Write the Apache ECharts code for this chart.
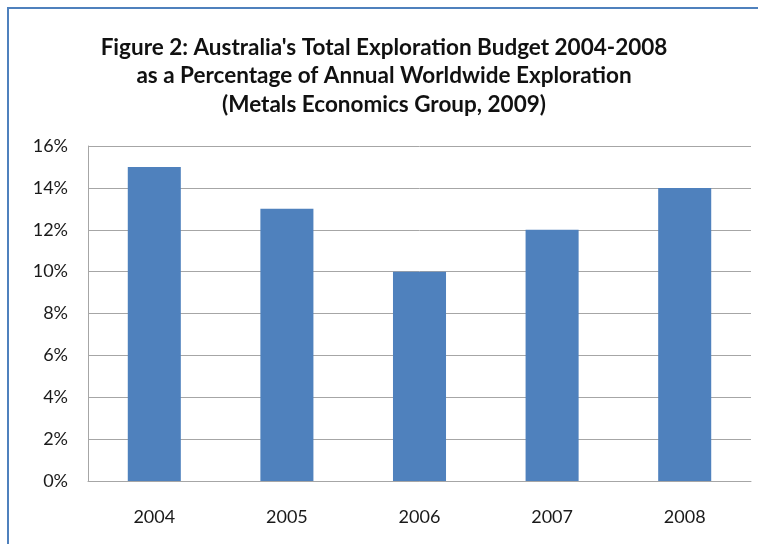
<!DOCTYPE html>
<html>
<head>
<meta charset="utf-8">
<script src="https://cdn.jsdelivr.net/npm/echarts@6/dist/echarts.min.js"></script>
<style>
  html, body { margin: 0; padding: 0; background: #fff; overflow: hidden; }
  #frame {
    position: absolute; left: 7px; top: 7px; width: 800px; height: 600px;
    border-left: 2px solid #4F81BD; border-top: 2px solid #4F81BD;
  }
  #chart { position: absolute; left: 0; top: 0; width: 758px; height: 544px; }
</style>
</head>
<body>
<div id="frame"></div>
<div id="chart"></div>
<script>
// data
const years = ['2004', '2005', '2006', '2007', '2008']
const shares = [15, 13, 10, 12, 14]   // percent of worldwide exploration

const titleLines = [
  "Figure 2: Australia's Total Exploration Budget 2004-2008",
  'as a Percentage of Annual Worldwide Exploration',
  '(Metals Economics Group, 2009)'
]

const chart = echarts.init(document.getElementById('chart'))
chart.setOption({
  backgroundColor: 'transparent',
  animation: false,
  title: {
    text: titleLines.join('\n'),
    left: 379,
    textAlign: 'center',
    top: 28,
    textStyle: {
      fontFamily: 'Lato',
      fontWeight: 'bold',
      fontSize: 22.5,
      lineHeight: 28.5,
      color: '#111'
    }
  },
  grid: {
    left: 88,
    right: 7,
    top: 146,
    bottom: 63
  },
  xAxis: {
    type: 'category',
    data: years,
    axisLine: { lineStyle: { color: '#a6a6a6', width: 1 } },
    axisTick: { show: false },
    axisLabel: {
      fontFamily: 'Lato',
      fontSize: 18,
      color: '#1a1a1a',
      margin: 27
    }
  },
  yAxis: {
    type: 'value',
    min: 0,
    max: 16,
    interval: 2,
    axisLine: { show: true, lineStyle: { color: '#a6a6a6', width: 1 } },
    axisTick: { show: false },
    splitLine: { lineStyle: { color: '#a6a6a6', width: 1 } },
    axisLabel: {
      formatter: '{value}%',
      fontFamily: 'Lato',
      fontSize: 18,
      color: '#1a1a1a',
      margin: 20
    }
  },
  series: [{
    type: 'bar',
    data: shares,
    barWidth: '40%',
    itemStyle: { color: '#4F81BD' }
  }]
})
</script>
</body>
</html>
